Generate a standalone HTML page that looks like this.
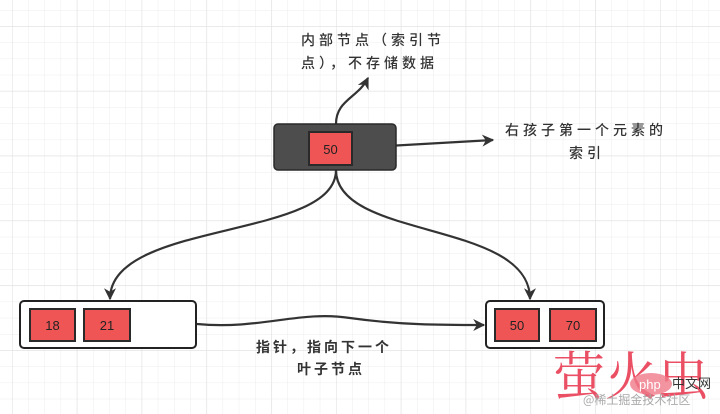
<!DOCTYPE html>
<html><head><meta charset="utf-8"><style>
html,body{margin:0;padding:0}
body{width:720px;height:414px;overflow:hidden;background:#fff;position:relative;font-family:"Liberation Sans","Noto Sans CJK SC",sans-serif}
svg{position:absolute;left:0;top:0}
</style></head><body>
<svg width="720" height="414" viewBox="0 0 720 414">
<defs>
<pattern id="g" x="12" y="10" width="16.2" height="16.2" patternUnits="userSpaceOnUse"><path d="M0 0H16.2M0 0V16.2" stroke="#ececec" stroke-width="1" fill="none"/></pattern>
<pattern id="G" x="12" y="26" width="64.8" height="64.8" patternUnits="userSpaceOnUse"><path d="M0 0H64.8M0 0V64.8" stroke="#e2e2e2" stroke-width="1.2" fill="none"/></pattern>
<marker id="b" viewBox="0 0 10 10" refX="9" refY="5" markerWidth="16" markerHeight="12" orient="auto" markerUnits="userSpaceOnUse"><path d="M0 0L10 5L0 10L3 5z" fill="#333"/></marker>
</defs>
<rect width="720" height="414" fill="url(#g)"/>
<rect width="720" height="414" fill="url(#G)"/>
<g fill="none" stroke="#333" stroke-width="2.2">
<path d="M336 124 C336 100 358 98 368 78" marker-end="url(#b)"/>
<path d="M352 148 L493 140" marker-end="url(#b)"/>
<path d="M336 170 C336 240 110 220 110 299" marker-end="url(#b)"/>
<path d="M336 170 C336 240 530 220 530 299" marker-end="url(#b)"/>
<path d="M197 324 C260 330 300 310 350 318 C400 325 440 325 484 325" marker-end="url(#b)"/>
</g>
<rect x="274" y="124" width="122" height="46" rx="4" fill="#4d4d4d" stroke="#2a2a2a" stroke-width="1.5"/>
<rect x="309" y="132" width="43" height="33" fill="#f05555" stroke="#2a2a2a" stroke-width="2"/>
<text x="330.5" y="154" font-size="13" fill="#222" text-anchor="middle">50</text>
<rect x="20" y="301" width="176" height="47" rx="4" fill="#fff" stroke="#222" stroke-width="2"/>
<rect x="30" y="309" width="45" height="32" fill="#f05555" stroke="#2a2a2a" stroke-width="2"/>
<rect x="84" y="309" width="46" height="32" fill="#f05555" stroke="#2a2a2a" stroke-width="2"/>
<text x="52.5" y="330" font-size="13" fill="#222" text-anchor="middle">18</text>
<text x="107" y="330" font-size="13" fill="#222" text-anchor="middle">21</text>
<rect x="486" y="301" width="118" height="47" rx="4" fill="#fff" stroke="#222" stroke-width="2"/>
<rect x="495" y="309" width="44" height="32" fill="#f05555" stroke="#2a2a2a" stroke-width="2"/>
<rect x="550" y="309" width="46" height="32" fill="#f05555" stroke="#2a2a2a" stroke-width="2"/>
<text x="517" y="330" font-size="13" fill="#222" text-anchor="middle">50</text>
<text x="573" y="330" font-size="13" fill="#222" text-anchor="middle">70</text>
<g font-family="'Noto Sans CJK SC',sans-serif" font-size="14" fill="#333" font-weight="500">
<text x="301" y="45" letter-spacing="4">内部节点（索引节</text>
<text x="301" y="68" letter-spacing="4">点），不存储数据</text>
<text x="505" y="135" letter-spacing="4">右孩子第一个元素的</text>
<text x="569" y="158" letter-spacing="4">索引</text>
<text x="256" y="352" font-weight="bold" letter-spacing="3">指针，指向下一个</text>
<text x="297" y="374" font-weight="bold" letter-spacing="3">叶子节点</text>
</g>
<text x="553" y="395" font-family="'Noto Serif CJK SC',serif" font-size="52" fill="#e8314a" opacity="0.85">萤火虫</text>
<ellipse cx="651" cy="384" rx="21" ry="11" fill="#f07a8a" opacity="0.8"/>
<text x="639" y="389" font-size="13" fill="#fff">php</text>
<text x="672" y="388" font-size="13" fill="#333" font-family="'Noto Sans CJK SC',sans-serif">中文网</text>
<text x="583" y="404" font-size="12" fill="#aaa" font-family="'Noto Sans CJK SC',sans-serif">@稀土掘金技术社区</text>
</svg>
</body></html>
